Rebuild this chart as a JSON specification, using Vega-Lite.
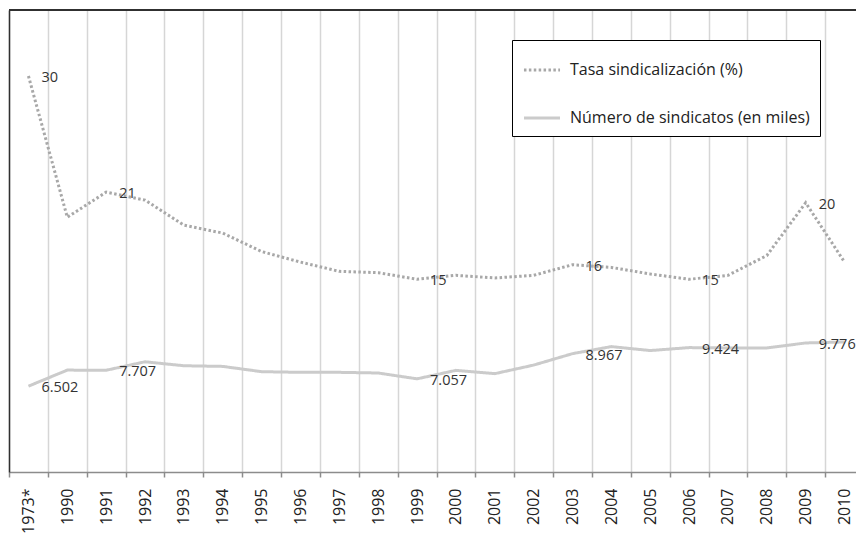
{
  "$schema": "https://vega.github.io/schema/vega-lite/v6.json",
  "autosize": {"type": "none"},
  "width": 847,
  "height": 462,
  "padding": {"left": 9, "top": 10, "right": 0, "bottom": 62},
  "background": "white",
  "config": {"view": {"stroke": null}, "font": "Open Sans"},
  "data": {
    "values": [
      {"anio": "1973*", "serie": "Tasa sindicalización (%)", "valor": 30, "etiqueta": "30"},
      {"anio": "1990", "serie": "Tasa sindicalización (%)", "valor": 19.3},
      {"anio": "1991", "serie": "Tasa sindicalización (%)", "valor": 21.2, "etiqueta": "21"},
      {"anio": "1992", "serie": "Tasa sindicalización (%)", "valor": 20.6},
      {"anio": "1993", "serie": "Tasa sindicalización (%)", "valor": 18.7},
      {"anio": "1994", "serie": "Tasa sindicalización (%)", "valor": 18.1},
      {"anio": "1995", "serie": "Tasa sindicalización (%)", "valor": 16.7},
      {"anio": "1996", "serie": "Tasa sindicalización (%)", "valor": 15.9},
      {"anio": "1997", "serie": "Tasa sindicalización (%)", "valor": 15.2},
      {"anio": "1998", "serie": "Tasa sindicalización (%)", "valor": 15.1},
      {"anio": "1999", "serie": "Tasa sindicalización (%)", "valor": 14.6, "etiqueta": "15"},
      {"anio": "2000", "serie": "Tasa sindicalización (%)", "valor": 14.9},
      {"anio": "2001", "serie": "Tasa sindicalización (%)", "valor": 14.7},
      {"anio": "2002", "serie": "Tasa sindicalización (%)", "valor": 14.9},
      {"anio": "2003", "serie": "Tasa sindicalización (%)", "valor": 15.7, "etiqueta": "16"},
      {"anio": "2004", "serie": "Tasa sindicalización (%)", "valor": 15.5},
      {"anio": "2005", "serie": "Tasa sindicalización (%)", "valor": 15.0},
      {"anio": "2006", "serie": "Tasa sindicalización (%)", "valor": 14.6, "etiqueta": "15"},
      {"anio": "2007", "serie": "Tasa sindicalización (%)", "valor": 14.9},
      {"anio": "2008", "serie": "Tasa sindicalización (%)", "valor": 16.4},
      {"anio": "2009", "serie": "Tasa sindicalización (%)", "valor": 20.4, "etiqueta": "20"},
      {"anio": "2010", "serie": "Tasa sindicalización (%)", "valor": 15.9},
      {"anio": "1973*", "serie": "Número de sindicatos (en miles)", "valor": 6.502, "etiqueta": "6.502"},
      {"anio": "1990", "serie": "Número de sindicatos (en miles)", "valor": 7.72},
      {"anio": "1991", "serie": "Número de sindicatos (en miles)", "valor": 7.707, "etiqueta": "7.707"},
      {"anio": "1992", "serie": "Número de sindicatos (en miles)", "valor": 8.35},
      {"anio": "1993", "serie": "Número de sindicatos (en miles)", "valor": 8.05},
      {"anio": "1994", "serie": "Número de sindicatos (en miles)", "valor": 8.0},
      {"anio": "1995", "serie": "Número de sindicatos (en miles)", "valor": 7.6},
      {"anio": "1996", "serie": "Número de sindicatos (en miles)", "valor": 7.55},
      {"anio": "1997", "serie": "Número de sindicatos (en miles)", "valor": 7.55},
      {"anio": "1998", "serie": "Número de sindicatos (en miles)", "valor": 7.5},
      {"anio": "1999", "serie": "Número de sindicatos (en miles)", "valor": 7.057, "etiqueta": "7.057"},
      {"anio": "2000", "serie": "Número de sindicatos (en miles)", "valor": 7.7},
      {"anio": "2001", "serie": "Número de sindicatos (en miles)", "valor": 7.45},
      {"anio": "2002", "serie": "Número de sindicatos (en miles)", "valor": 8.1},
      {"anio": "2003", "serie": "Número de sindicatos (en miles)", "valor": 8.967, "etiqueta": "8.967"},
      {"anio": "2004", "serie": "Número de sindicatos (en miles)", "valor": 9.5},
      {"anio": "2005", "serie": "Número de sindicatos (en miles)", "valor": 9.2},
      {"anio": "2006", "serie": "Número de sindicatos (en miles)", "valor": 9.424, "etiqueta": "9.424"},
      {"anio": "2007", "serie": "Número de sindicatos (en miles)", "valor": 9.4},
      {"anio": "2008", "serie": "Número de sindicatos (en miles)", "valor": 9.4},
      {"anio": "2009", "serie": "Número de sindicatos (en miles)", "valor": 9.776, "etiqueta": "9.776"},
      {"anio": "2010", "serie": "Número de sindicatos (en miles)", "valor": 9.85}
    ]
  },
  "layer": [
    {
      "mark": {"type": "line", "strokeWidth": 3},
      "encoding": {
        "x": {
          "field": "anio",
          "type": "ordinal",
          "sort": null,
          "scale": {"range": [0, 855], "paddingInner": 0, "paddingOuter": 0},
          "axis": {
            "title": null,
            "tickBand": "extent",
            "grid": true,
            "gridColor": "#d6d6d6",
            "gridWidth": 1.5,
            "domainColor": "#8c8c8c",
            "domainWidth": 1.5,
            "tickColor": "#8c8c8c",
            "tickWidth": 1.5,
            "tickSize": 5,
            "labelAngle": -90,
            "labelPadding": 11,
            "labelFontSize": 16,
            "labelColor": "#222222",
            "labelFont": "Open Sans"
          }
        },
        "y": {
          "field": "valor",
          "type": "quantitative",
          "scale": {"domain": [0, 35], "nice": false, "zero": true},
          "axis": {"domain": true, "domainColor": "#303030", "domainWidth": 1.5, "ticks": false, "labels": false, "grid": false, "title": null, "zindex": 2}
        },
        "color": {
          "field": "serie",
          "type": "nominal",
          "scale": {"domain": ["Tasa sindicalización (%)", "Número de sindicatos (en miles)"], "range": ["#a8a8a8", "#cbcbcb"]},
          "legend": {
            "title": null, "orient": "none", "legendX": 503, "legendY": 30,
            "padding": 10, "strokeColor": "#000000", "fillColor": "#ffffff",
            "symbolType": "stroke", "symbolSize": 1300, "symbolStrokeWidth": 3,
            "rowPadding": 20, "labelFontSize": 16, "labelColor": "#222222", "labelOffset": 8, "labelLimit": 400, "labelFont": "Open Sans"
          }
        },
        "strokeDash": {
          "field": "serie",
          "type": "nominal",
          "scale": {"domain": ["Tasa sindicalización (%)", "Número de sindicatos (en miles)"], "range": [[2.5, 2.4], [1, 0]]},
          "legend": {
            "title": null, "orient": "none", "legendX": 503, "legendY": 30,
            "padding": 10, "strokeColor": "#000000", "fillColor": "#ffffff",
            "symbolType": "stroke", "symbolSize": 1300, "symbolStrokeWidth": 3,
            "rowPadding": 20, "labelFontSize": 16, "labelColor": "#222222", "labelOffset": 8, "labelLimit": 400, "labelFont": "Open Sans"
          }
        }
      }
    },
    {
      "mark": {"type": "rule", "color": "#303030", "strokeWidth": 2},
      "encoding": {
        "y": {"datum": 35, "type": "quantitative"}
      }
    },
    {
      "transform": [{"filter": "isValid(datum.etiqueta)"}],
      "mark": {"type": "text", "align": "left", "baseline": "middle", "dx": 13, "dy": 2, "fontSize": 14.5, "color": "#333333", "font": "Open Sans"},
      "encoding": {
        "x": {"field": "anio", "type": "ordinal", "sort": null},
        "y": {"field": "valor", "type": "quantitative"},
        "text": {"field": "etiqueta", "type": "nominal"}
      }
    }
  ]
}
